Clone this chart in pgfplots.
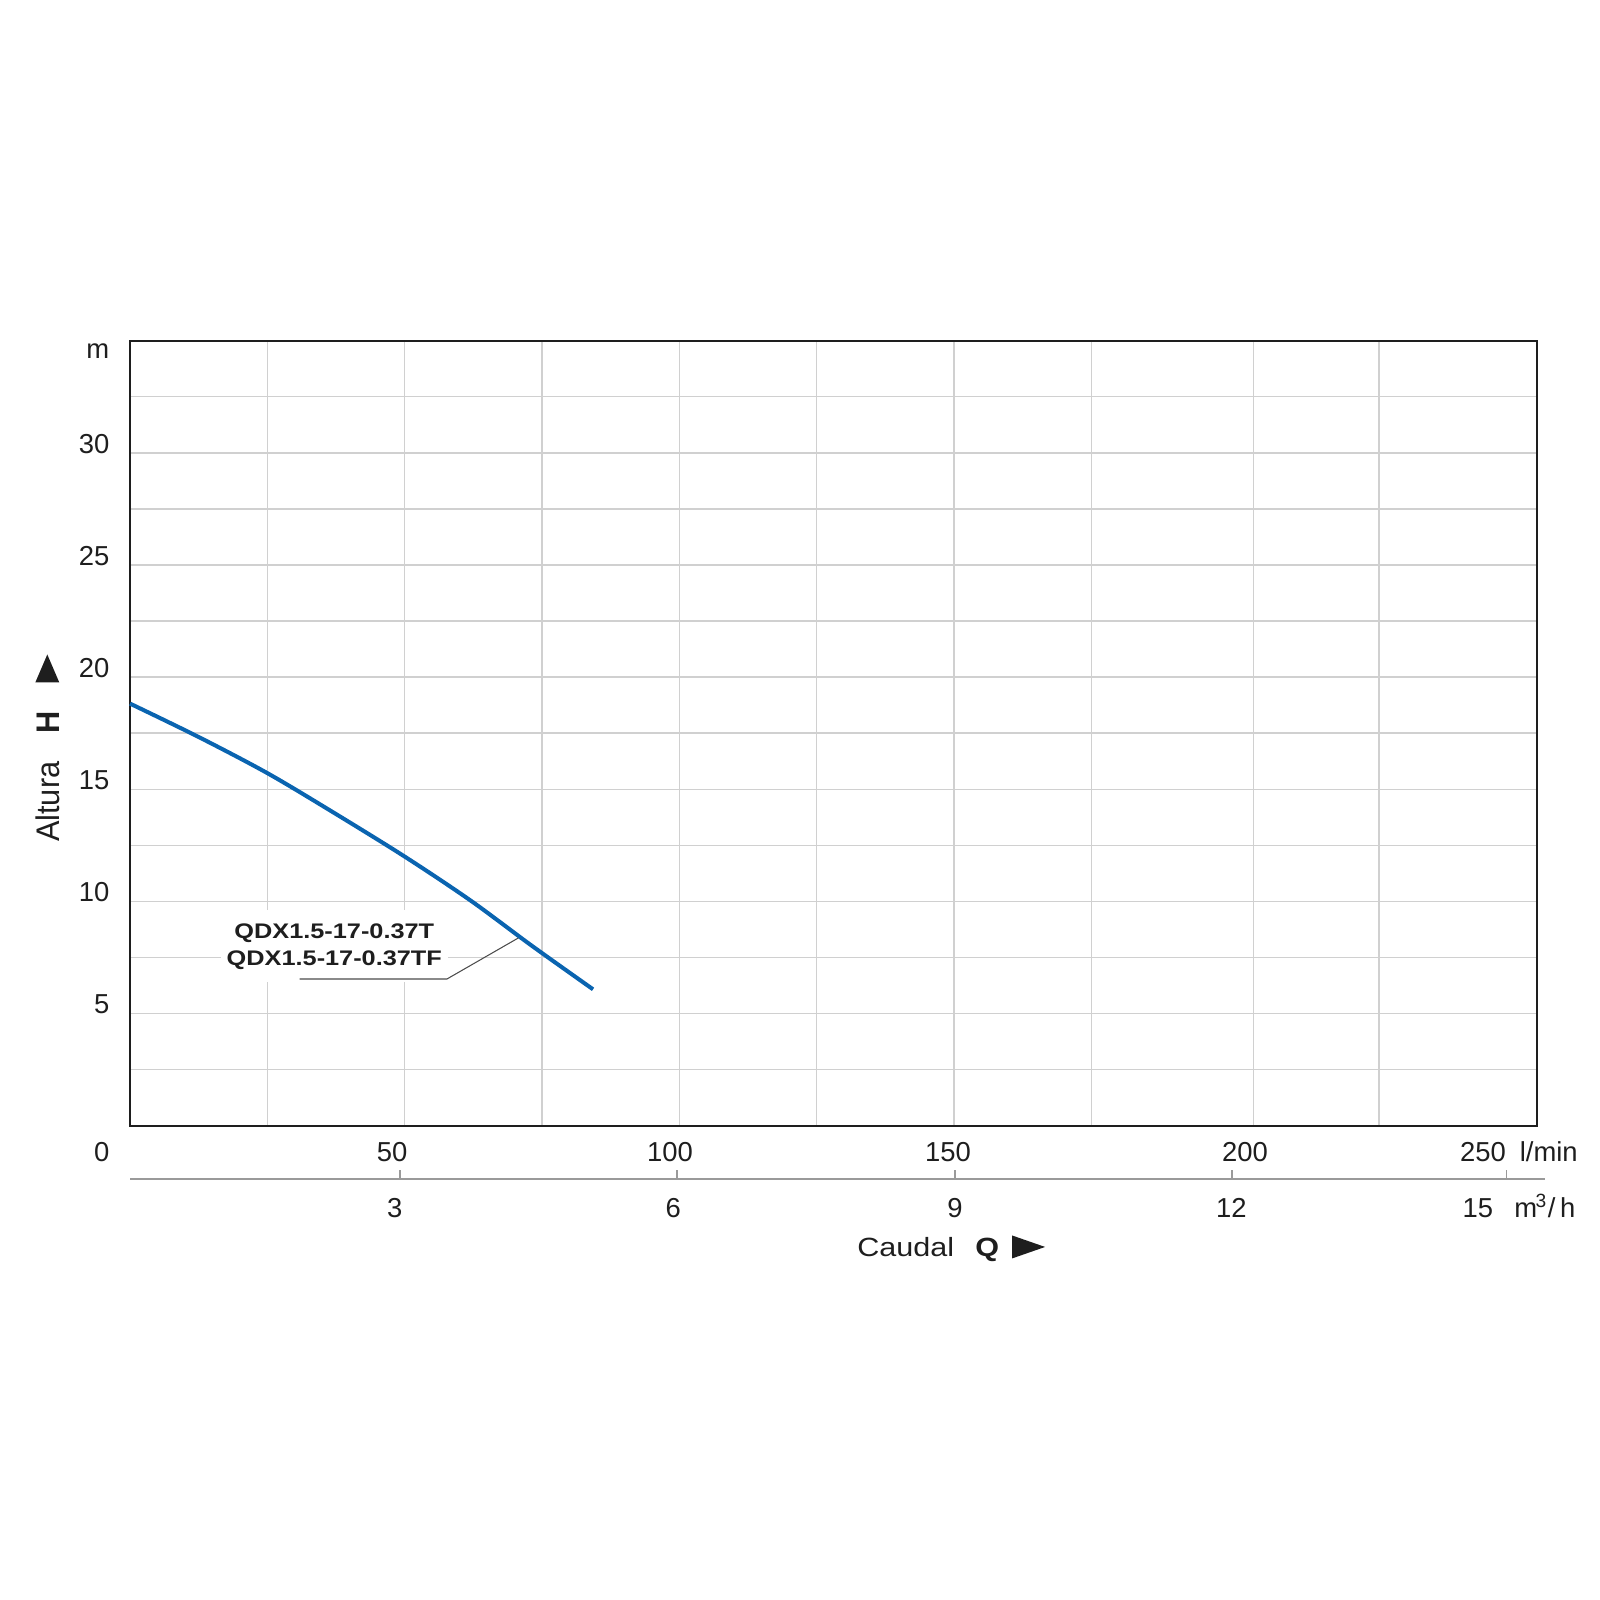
\documentclass[border=0pt]{standalone}
\usepackage{fontspec}
\setmainfont{Liberation Sans}
\newfontfamily\xlabfont{Liberation Sans}[FakeStretch=1.16]
\newfontfamily\ylabfont{Liberation Sans}[FakeStretch=0.94]
\newfontfamily\tagfont{Liberation Sans}[FakeStretch=1.2]
\usepackage{pgfplots}
\pgfplotsset{compat=1.18}
\definecolor{curveblue}{HTML}{0A64B0}
\definecolor{gridgrey}{HTML}{D0D0D0}
\definecolor{inkgrey}{HTML}{1E1E1E}
\definecolor{axisgrey}{HTML}{9A9A9A}
\begin{document}
\begin{tikzpicture}
\path[use as bounding box] (0,0) rectangle (160mm,160mm);
\begin{axis}[
  at={(13mm,47.43mm)}, anchor=south west, scale only axis,
  width=140.67mm, height=78.5mm,
  xmin=0, xmax=256.1, ymin=0, ymax=35,
  xtick={25,50,75,100,125,150,175,204.5,227.4}, xticklabels={},
  ytick={5,10,15,20,25,30}, minor ytick={2.5,7.5,12.5,17.5,22.5,27.5,32.5},
  grid=both,
  major grid style={gridgrey,line width=0.4pt},
  minor grid style={gridgrey,line width=0.4pt},
  major tick length=0pt, minor tick length=0pt,
  axis line style={inkgrey,line width=0.65pt},
  font=\fontsize{7.8}{9}\selectfont,
  /pgf/number format/assume math mode=true,
  yticklabel style={anchor=east, inner sep=0pt, xshift=-2mm, yshift=0.9mm, text=inkgrey},
  extra x ticks={47.7,98.3,148.9,203,246.3},
  extra x tick labels={50,100,150,200,250},
  extra x tick style={grid=none, xticklabel style={anchor=center, inner sep=0pt, yshift=-2.6mm, text=inkgrey}},
  clip=false,
]
% Kennlinie
\addplot[curveblue, line width=1.15pt, smooth] coordinates {
  (0,18.82) (12.5,17.33) (25,15.72) (37,13.97) (50,12.0)
  (62,10.04) (73,8.05) (84.3,6.08)};
% model tag
\node[fill=white, inner xsep=0.6mm, inner ysep=1.3mm, align=center, text=inkgrey,
  font=\tagfont\bfseries\fontsize{6}{7.7}\selectfont] at (axis cs:37.2,8.0)
  {QDX1.5-17-0.37T\\QDX1.5-17-0.37TF};
\draw[gray!60!black, line width=0.3pt] (axis cs:30.9,6.54) -- (axis cs:57.7,6.54) -- (axis cs:70.7,8.37);
% corner and unit labels
\node[anchor=east, inner sep=0pt, text=inkgrey, font=\fontsize{7.8}{9}\selectfont] at (axis cs:-3.64,-1.16) {0};
\node[anchor=east, inner sep=0pt, text=inkgrey, font=\fontsize{7.8}{9}\selectfont] at (axis cs:-3.64,34.54) {m};
\node[anchor=center, inner sep=0pt, text=inkgrey, font=\fontsize{7.8}{9}\selectfont] at (axis cs:258.3,-1.16) {l/min};
% second scale m3/h
\draw[axisgrey, line width=0.5pt] (axis cs:0,-2.39) -- (axis cs:257.6,-2.39);
\draw[axisgrey, line width=0.5pt] (axis cs:49.1,-2.39) -- (axis cs:49.1,-1.99);
\draw[axisgrey, line width=0.5pt] (axis cs:99.6,-2.39) -- (axis cs:99.6,-1.99);
\draw[axisgrey, line width=0.5pt] (axis cs:150.2,-2.39) -- (axis cs:150.2,-1.99);
\draw[axisgrey, line width=0.5pt] (axis cs:200.6,-2.39) -- (axis cs:200.6,-1.99);
\draw[axisgrey, line width=0.5pt] (axis cs:250.6,-2.39) -- (axis cs:250.6,-1.99);
\node[anchor=base, inner sep=0pt, text=inkgrey, font=\fontsize{7.8}{9}\selectfont] at (axis cs:48.2,-4.11) {3};
\node[anchor=base, inner sep=0pt, text=inkgrey, font=\fontsize{7.8}{9}\selectfont] at (axis cs:98.9,-4.11) {6};
\node[anchor=base, inner sep=0pt, text=inkgrey, font=\fontsize{7.8}{9}\selectfont] at (axis cs:150.2,-4.11) {9};
\node[anchor=base, inner sep=0pt, text=inkgrey, font=\fontsize{7.8}{9}\selectfont] at (axis cs:200.5,-4.11) {12};
\node[anchor=base, inner sep=0pt, text=inkgrey, font=\fontsize{7.8}{9}\selectfont] at (axis cs:245.4,-4.11) {15};
\node[anchor=base, inner sep=0pt, text=inkgrey, font=\fontsize{7.8}{9}\selectfont] at (axis cs:257.6,-4.11) {m\kern-0.5pt\textsuperscript{3}/\,h};
% axis titles
\node[anchor=base west, inner sep=0pt, text=inkgrey] at (axis cs:132.3,-5.83)
  {\xlabfont\fontsize{7.5}{9}\selectfont Caudal\hspace{2.1mm}\textbf{Q}\hspace{1.3mm}\tikz[baseline=0.2mm]\fill[inkgrey] (0,0)--(3.3mm,1.15mm)--(0,2.3mm)--cycle;};
\node[anchor=base west, rotate=90, inner sep=0pt, text=inkgrey] at (axis cs:-12.87,12.62)
  {\ylabfont\fontsize{9.3}{11}\selectfont Altura\hspace{2.8mm}\textbf{H}\hspace{2.9mm}\tikz[baseline=0mm]\fill[inkgrey] (0,0)--(2.8mm,1.2mm)--(0,2.4mm)--cycle;};
\end{axis}
\end{tikzpicture}
\end{document}
